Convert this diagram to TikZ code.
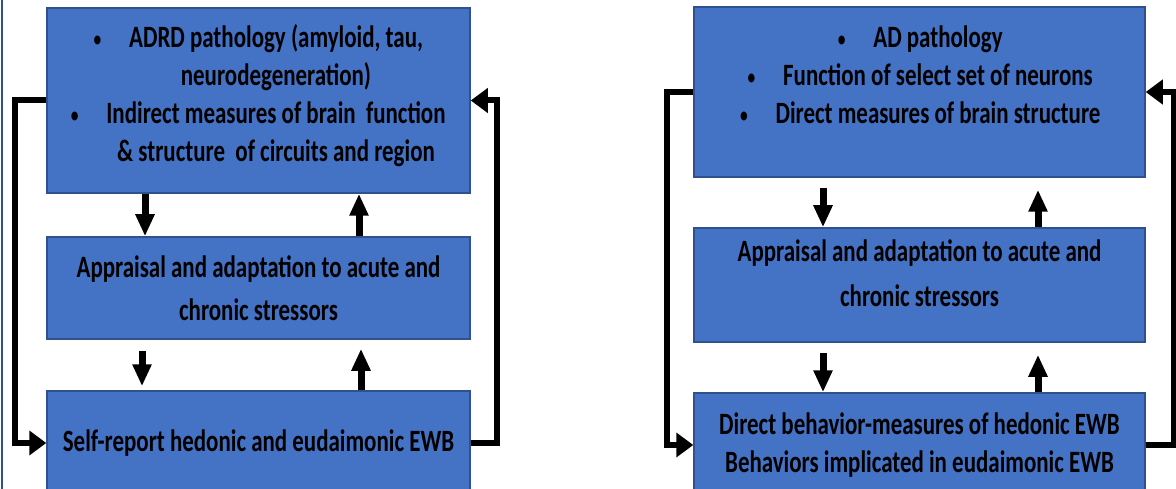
\documentclass[tikz,border=0pt]{standalone}
\usepackage{fontspec}
\setmainfont[FakeStretch=0.74]{Carlito}
\usetikzlibrary{arrows.meta,positioning}
\definecolor{boxblue}{HTML}{4472C4}
\definecolor{edgeblue}{HTML}{2F528F}
\newcommand{\blt}{\llap{{\normalfont\fontsize{25}{25}\selectfont\textbullet}\hspace{27pt}}}

\begin{document}
\begin{tikzpicture}[x=1pt,y=-1pt,
  box/.style={rectangle,draw=edgeblue,fill=boxblue,line width=1.5pt,align=center,
    font=\fontsize{31}{38}\selectfont\bfseries},
  txt/.style={align=center,inner sep=0pt,font=\fontsize{31}{38}\selectfont\bfseries},
  flow/.style={-{Triangle[width=18pt,length=22pt]},line width=7pt},
  back/.style={-{Triangle[width=24pt,length=17pt]},line width=6pt}]
\clip (0,0) rectangle (1176,489);
\draw[edgeblue,line width=1.5pt] (2,0) -- (2,489);

% left panel
\node[box,minimum width=423pt,minimum height=185pt] (topL) at (258.5,100.5) {};
\node[txt] (topLtext) at (276,96) {\blt ADRD pathology (amyloid, tau,\\
  neurodegeneration)\\
  \blt Indirect measures of brain\ \ function\\
  \&\ structure\ \ of circuits and region};
\node[box,minimum width=423pt,minimum height=102pt,font=\fontsize{31}{43}\selectfont\bfseries] (midL) at (258.5,288) {Appraisal and adaptation to acute and\\ chronic stressors};
\node[box,minimum width=423pt,minimum height=104pt] (botL) at (258.5,443) {Self-report hedonic and eudaimonic EWB};

\draw[flow] ([xshift=-113.5pt]topL.south) -- ([xshift=-113.5pt]midL.north);
\draw[flow] ([xshift=100.5pt]midL.north) -- ([xshift=100.5pt]topL.south);
\draw[flow,shorten <=11pt,shorten >=4pt] ([xshift=-116.5pt]midL.south) -- ([xshift=-116.5pt]botL.north);
\draw[flow,shorten >=9pt] ([xshift=102.5pt]botL.north) -- ([xshift=102.5pt]midL.south);
\draw[back] (topL.west) -- ++(-31,0) |- (botL.west);
\draw[back] (botL.east) -- ++(26,0) |- (topL.east);

% right panel
\node[box,minimum width=451pt,minimum height=170pt] (topR) at (919.5,92) {};
\node[txt] (topRtext) at (938,75) {\blt AD pathology\\
  \blt Function of select set of neurons\\
  \blt Direct measures of brain structure};
\node[box,minimum width=451pt,minimum height=114pt,text depth=24pt,font=\fontsize{31}{45}\selectfont\bfseries] (midR) at (919.5,285) {Appraisal and adaptation to acute and\\ chronic stressors};
\node[box,minimum width=451pt,minimum height=104pt] (botR) at (919.5,445) {Direct behavior-measures of hedonic EWB\\ Behaviors implicated in eudaimonic EWB};

\draw[flow,shorten <=10pt] ([xshift=-96.5pt]topR.south) -- ([xshift=-96.5pt]midR.north);
\draw[flow,shorten >=12pt] ([xshift=118.5pt]midR.north) -- ([xshift=118.5pt]topR.south);
\draw[flow,shorten <=10pt] ([xshift=-96.5pt]midR.south) -- ([xshift=-96.5pt]botR.north);
\draw[flow,shorten >=12pt] ([xshift=118.5pt]botR.north) -- ([xshift=118.5pt]midR.south);
\draw[back] (topR.west) -- ++(-26,0) |- (botR.west);
\draw[back] (botR.east) -- ++(28,0) |- (topR.east);
\end{tikzpicture}
\end{document}
